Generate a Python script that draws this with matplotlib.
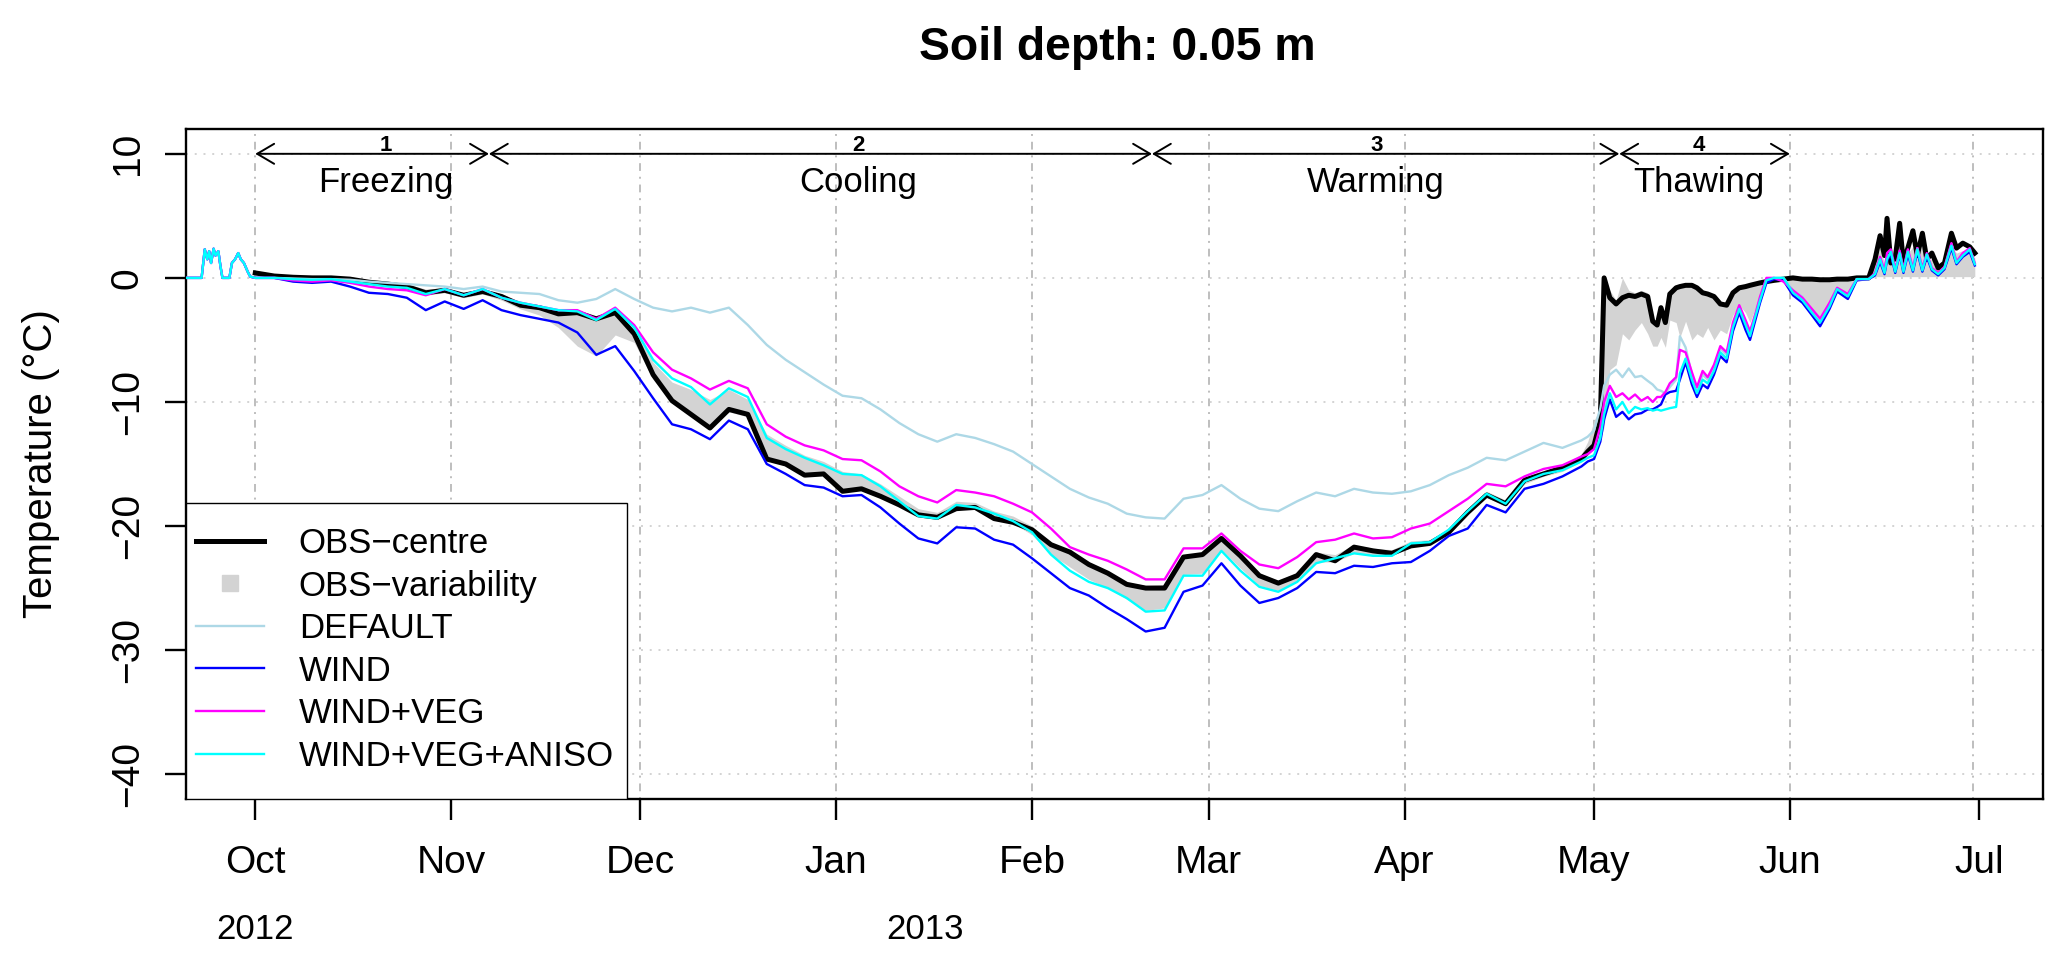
import numpy as np
import matplotlib
matplotlib.use('Agg')
import matplotlib.pyplot as plt
import matplotlib.dates as mdates
import matplotlib.transforms as mtransforms
from matplotlib.lines import Line2D
from matplotlib.patches import Rectangle

plt.rcParams['font.family'] = ['Liberation Sans', 'DejaVu Sans']

# time axis: days since 2012-10-01
t0 = np.datetime64('2012-10-01')

# spin-up before October (identical for all model runs)
pre_days = [-10.9, -8.5, -8.0, -7.6, -7.3, -7.0, -6.6, -6.3, -5.85, -5.5,
            -5.2, -4.1, -3.7, -3.2, -2.7, -2.3, -1.8, -1.2, -0.8]
pre_model = [0, 0, 2.3, 1.5, 2.15, 1.2, 2.35, 1.8, 2.15, 0.9,
             0, 0, 1.2, 1.5, 2.0, 1.5, 1.2, 0.5, 0.1]

days = [0, 3, 6, 9, 12, 15, 18, 21, 24, 27,
        30, 33, 36, 39, 42, 45, 48, 51, 54, 57,
        60, 63, 66, 69, 72, 75, 78, 81, 84, 87,
        90, 93, 96, 99, 102, 105, 108, 111, 114, 117,
        120, 123, 126, 129, 132, 135, 138, 141, 144, 147,
        150, 153, 156, 159, 162, 165, 168, 171, 174, 177,
        180, 183, 186, 189, 192, 195, 198, 201, 204, 207,
        210,
        211, 212, 213, 213.6, 214.5, 215.5, 216.5, 217.5, 218.5, 219.5,
        220.5, 221.3, 222, 222.6, 223.3, 224, 225, 225.6, 226.5, 227.5,
        228.3, 229.2, 230, 231, 232, 233, 234, 235, 236, 236.7,
        237.5, 238.3, 239.3, 240.5, 242, 243.5, 245, 246.5, 247.8, 249.3,
        250.5, 252.2, 253.6, 255.5, 256.5, 257.3, 258, 258.4, 259, 259.7,
        260.4, 261, 261.7, 262.5, 263.2, 264, 264.7, 265.5, 266.5, 267.5,
        268.6, 269.4, 270.4, 271.5, 272.3]

obs_centre = [0.4, 0.15, 0.05, 0.0, 0.0, -0.1, -0.35, -0.5, -0.7, -1.2,
              -1.0, -1.4, -1.1, -1.5, -2.2, -2.4, -2.9, -2.8, -3.3, -2.8,
              -4.5, -7.8, -9.9, -11.0, -12.1, -10.6, -11.0, -14.6, -15.0, -15.9,
              -15.8, -17.2, -17.0, -17.6, -18.3, -19.1, -19.3, -18.6, -18.5, -19.4,
              -19.7, -20.3, -21.5, -22.1, -23.1, -23.8, -24.7, -25.0, -25.0, -22.5,
              -22.3, -21.0, -22.4, -24.0, -24.6, -24.0, -22.3, -22.8, -21.7, -22.0,
              -22.2, -21.6, -21.4, -20.5, -18.9, -17.5, -18.2, -16.3, -15.8, -15.3,
              -14.6,
              -14.0, -13.5, -11.5, 0.0, -1.6, -2.1, -1.6, -1.4, -1.5, -1.3,
              -1.5, -3.5, -3.8, -2.4, -3.6, -1.3, -0.8, -0.7, -0.6, -0.6,
              -0.8, -1.2, -1.3, -1.5, -2.1, -2.2, -1.2, -0.8, -0.7, -0.6,
              -0.5, -0.4, -0.3, -0.2, -0.1, 0.0, -0.1, -0.1, -0.15, -0.15,
              -0.1, -0.1, 0.0, 0.0, 1.5, 3.4, 1.8, 4.8, 1.2, 1.6,
              4.4, 1.2, 2.4, 3.8, 1.8, 3.6, 1.5, 2.0, 0.8, 1.2,
              3.6, 2.4, 2.8, 2.5, 2.0]

obs_low = [0.2, 0.0, -0.05, -0.1, -0.15, -0.25, -0.5, -0.7, -0.9, -1.4,
           -1.2, -1.6, -1.3, -1.8, -2.5, -3.0, -4.0, -5.5, -6.3, -4.6,
           -5.2, -8.2, -10.0, -11.0, -12.0, -10.8, -11.2, -14.6, -15.0, -15.8,
           -15.8, -17.2, -17.0, -17.6, -18.3, -19.2, -19.4, -18.6, -18.6, -19.4,
           -19.8, -20.7, -22.3, -23.3, -24.3, -25.0, -25.9, -26.8, -26.6, -23.9,
           -23.8, -21.9, -23.4, -24.8, -25.2, -24.4, -22.9, -22.9, -22.2, -22.4,
           -22.4, -21.7, -21.5, -20.6, -19.1, -17.7, -18.4, -16.6, -16.0, -15.6,
           -14.8,
           -14.3, -13.8, -13.0, -12.0, -7.4, -7.0, -4.5, -5.0, -4.2, -3.6,
           -4.5, -5.5, -5.5, -4.8, -5.6, -3.4, -3.6, -4.8, -3.5, -5.0,
           -4.5, -4.8, -4.0, -5.0, -4.2, -4.5, -3.0, -2.2, -2.8, -3.6,
           -2.5, -1.4, -0.4, -0.2, -0.3, -1.0, -1.7, -2.6, -3.2, -2.2,
           -1.0, -1.3, -0.2, 0.0, 0.1, 0.1, 0.1, 0.1, 0.1, 0.1,
           0.1, 0.1, 0.1, 0.1, 0.1, 0.1, 0.1, 0.1, 0.1, 0.1,
           0.1, 0.1, 0.1, 0.1, 0.1]

obs_high = [0.5, 0.25, 0.1, 0.05, 0.05, 0.0, -0.2, -0.3, -0.5, -0.9,
            -0.8, -1.2, -0.9, -1.3, -1.9, -2.2, -2.6, -2.7, -3.2, -2.6,
            -4.0, -6.8, -8.4, -9.0, -9.8, -9.0, -9.8, -12.6, -13.5, -14.3,
            -14.8, -15.6, -15.8, -16.6, -17.6, -18.6, -18.9, -18.0, -18.1, -18.8,
            -19.2, -20.0, -21.3, -22.0, -22.9, -23.6, -24.5, -24.8, -24.7, -22.3,
            -22.2, -20.8, -22.2, -23.8, -24.4, -23.7, -22.1, -22.3, -21.5, -21.8,
            -21.9, -21.2, -21.1, -20.2, -18.7, -17.2, -17.9, -16.1, -15.6, -15.1,
            -14.2,
            -13.2, -11.5, -10.5, -0.3, -1.0, -1.8, 0.0, -1.0, -1.2, -1.0,
            -1.2, -3.3, -3.5, -2.3, -3.5, -1.1, -0.7, -0.6, -0.5, -0.5,
            -0.7, -1.1, -1.2, -1.4, -2.0, -2.1, -1.1, -0.7, -0.6, -0.5,
            -0.4, -0.3, -0.2, -0.1, 0.0, 0.0, 0.0, 0.0, 0.0, 0.0,
            0.0, 0.0, 0.0, 0.1, 1.0, 2.5, 1.2, 3.5, 1.5, 1.2,
            3.0, 1.0, 2.0, 2.5, 1.8, 2.5, 1.3, 1.5, 0.6, 1.0,
            2.5, 2.0, 2.2, 2.0, 1.6]

default = [0, 0, -0.05, -0.1, -0.1, -0.15, -0.3, -0.4, -0.5, -0.6,
           -0.7, -0.9, -0.7, -1.1, -1.2, -1.3, -1.8, -2.0, -1.7, -0.9,
           -1.7, -2.4, -2.7, -2.4, -2.8, -2.4, -3.8, -5.4, -6.6, -7.6,
           -8.6, -9.5, -9.7, -10.6, -11.7, -12.6, -13.2, -12.6, -12.9, -13.4,
           -14.0, -15.0, -16.0, -17.0, -17.7, -18.2, -19.0, -19.3, -19.4, -17.8,
           -17.5, -16.7, -17.8, -18.6, -18.8, -18.0, -17.3, -17.6, -17.0, -17.3,
           -17.4, -17.2, -16.7, -15.9, -15.3, -14.5, -14.7, -14.0, -13.3, -13.7,
           -13.1,
           -12.8, -12.3, -10.5, -8.7, -7.8, -7.4, -8.0, -7.3, -8.0, -7.9,
           -8.3, -8.6, -9.0, -9.1, -9.3, -8.8, -8.2, -4.7, -5.6, -7.8,
           -9.0, -7.8, -8.2, -7.2, -5.7, -6.2, -3.8, -2.3, -3.6, -4.5,
           -3.0, -1.6, -0.1, 0.0, 0.0, -1.0, -1.5, -2.6, -3.2, -2.1,
           -0.8, -1.3, -0.1, -0.1, 0.3, 1.5, 0.5, 1.6, 2.0, 0.5,
           2.1, 0.6, 2.2, 0.7, 2.4, 0.7, 1.9, 0.7, 0.3, 0.8,
           2.7, 1.3, 1.9, 2.2, 1.1]

wind = [0, 0, -0.3, -0.4, -0.3, -0.7, -1.2, -1.3, -1.6, -2.6,
        -1.9, -2.5, -1.8, -2.6, -3.0, -3.3, -3.6, -4.4, -6.2, -5.5,
        -7.5, -9.7, -11.8, -12.2, -13.0, -11.5, -12.2, -15.0, -15.8, -16.7,
        -16.9, -17.6, -17.5, -18.5, -19.8, -21.0, -21.4, -20.1, -20.2, -21.1,
        -21.5, -22.6, -23.8, -25.0, -25.6, -26.6, -27.5, -28.5, -28.2, -25.3,
        -24.8, -23.0, -24.8, -26.2, -25.8, -25.0, -23.7, -23.8, -23.2, -23.3,
        -23.0, -22.9, -22.0, -20.8, -20.2, -18.3, -18.9, -17.0, -16.6, -16.0,
        -15.2,
        -14.8, -14.6, -13.2, -11.4, -9.8, -11.2, -10.8, -11.4, -11.0, -10.9,
        -10.6, -10.6, -10.4, -10.2, -9.4, -9.2, -9.1, -8.2, -6.8, -8.6,
        -9.6, -8.6, -8.9, -7.8, -6.3, -6.8, -4.3, -2.8, -4.2, -5.0,
        -3.5, -2.0, -0.4, -0.1, -0.2, -1.4, -2.0, -3.0, -3.9, -2.5,
        -1.1, -1.7, -0.2, -0.1, 0.2, 1.3, 0.3, 1.4, 1.9, 0.4,
        1.9, 0.4, 1.9, 0.5, 2.1, 0.5, 1.7, 0.6, 0.2, 0.7,
        2.4, 1.1, 1.7, 2.1, 1.0]

wind_veg = [0, 0, -0.2, -0.3, -0.2, -0.4, -0.7, -0.9, -1.0, -1.4,
            -0.9, -1.4, -0.9, -1.6, -2.0, -2.3, -2.6, -2.6, -3.3, -2.4,
            -3.8, -6.0, -7.4, -8.1, -9.0, -8.3, -8.9, -11.8, -12.8, -13.5,
            -13.9, -14.6, -14.7, -15.6, -16.8, -17.6, -18.1, -17.1, -17.3, -17.6,
            -18.2, -18.9, -20.2, -21.7, -22.3, -22.8, -23.5, -24.3, -24.3, -21.8,
            -21.8, -20.6, -22.0, -23.1, -23.4, -22.5, -21.3, -21.1, -20.6, -21.0,
            -20.9, -20.2, -19.8, -18.8, -17.8, -16.6, -16.8, -16.0, -15.4, -15.1,
            -14.4,
            -14.2, -13.8, -12.0, -10.0, -8.7, -9.6, -9.3, -9.8, -9.4, -9.9,
            -9.6, -10.0, -9.6, -9.6, -9.2, -8.5, -8.0, -5.8, -6.0, -7.6,
            -8.8, -7.5, -8.0, -7.0, -5.5, -6.0, -3.6, -2.2, -3.4, -4.3,
            -3.0, -1.5, 0.0, 0.0, -0.3, -1.0, -1.6, -2.5, -3.3, -2.0,
            -0.8, -1.3, -0.1, -0.1, 0.4, 1.7, 0.6, 2.0, 2.3, 0.7,
            2.2, 0.7, 2.3, 0.8, 2.4, 0.8, 2.0, 0.8, 0.4, 0.9,
            2.8, 1.3, 2.0, 2.4, 1.2]

wind_veg_aniso = [0, 0, -0.1, -0.15, -0.1, -0.3, -0.5, -0.7, -0.8, -1.3,
                  -0.9, -1.4, -0.9, -1.6, -2.0, -2.3, -2.6, -2.7, -3.4, -2.5,
                  -4.0, -6.6, -8.1, -8.8, -10.2, -8.9, -9.6, -12.9, -13.8, -14.5,
                  -15.1, -15.8, -15.9, -16.8, -18.0, -19.2, -19.4, -18.3, -18.5, -19.0,
                  -19.6, -20.5, -22.3, -23.6, -24.5, -25.0, -25.8, -26.9, -26.8, -24.0,
                  -24.0, -22.0, -23.6, -24.9, -25.3, -24.5, -23.0, -22.6, -22.2, -22.4,
                  -22.4, -21.4, -21.3, -20.3, -18.8, -17.4, -18.2, -16.4, -15.8, -15.5,
                  -14.8,
                  -14.5, -14.3, -12.9, -11.0, -9.3, -10.6, -10.0, -10.9, -10.4, -10.6,
                  -10.5, -10.7, -10.6, -10.7, -10.6, -10.5, -10.4, -7.7, -6.5, -8.2,
                  -9.3, -8.2, -8.5, -7.5, -6.0, -6.5, -4.0, -2.5, -3.8, -4.7,
                  -3.2, -1.8, -0.2, 0.0, 0.0, -1.2, -1.8, -2.8, -3.6, -2.3,
                  -0.9, -1.5, -0.1, -0.1, 0.3, 1.5, 0.4, 1.5, 2.1, 0.5,
                  2.0, 0.5, 2.1, 0.6, 2.3, 0.6, 1.9, 0.7, 0.3, 0.8,
                  2.6, 1.2, 1.8, 2.3, 1.1]

# snow/soil phases
phase_edges = ['2012-10-01', '2012-11-07', '2013-02-20', '2013-05-05', '2013-06-01']
phase_names = ['Freezing', 'Cooling', 'Warming', 'Thawing']
phase_label_days = [20.7, 95.5, 177.5, 228.6]

month_ticks = ['2012-10-01', '2012-11-01', '2012-12-01', '2013-01-01', '2013-02-01',
               '2013-03-01', '2013-04-01', '2013-05-01', '2013-06-01', '2013-07-01']
month_grid = month_ticks[:-1] + ['2013-06-30']
year_labels = ['2012', '2013']
year_dates = ['2012-10-01', '2013-01-15']


def to_num(d):
    return mdates.date2num(t0) + np.asarray(d, dtype=float)


def date_num(s):
    return mdates.date2num(np.datetime64(s))


x = to_num(days)
x_mod = np.concatenate([to_num(pre_days), x])


def model(vals):
    return np.concatenate([pre_model, vals])


# plot setup
W, H = 2066, 958
fig = plt.figure(figsize=(W / 100, H / 100), dpi=100)
ax = fig.add_axes([186 / W, (H - 799) / H, 1857 / W, 670 / H])

ax.set_xlim(to_num(-10.97), to_num(283.1))
ax.set_ylim(-42, 12)

# grid
for g in month_grid:
    ax.axvline(date_num(g), color='#BEBEBE', lw=1.4, ls=(0, (1, 3, 4, 3)), zorder=0)
for yv in [10, 0, -10, -20, -30, -40]:
    ax.axhline(yv, color='#D3D3D3', lw=1.4, ls=(0, (1, 3.5)), zorder=0)

# data
ax.fill_between(x, obs_low, obs_high, color='#D3D3D3', lw=0, zorder=1)
ax.plot(x, obs_centre, color='black', lw=3.6, zorder=2)
ax.plot(x_mod, model(default), color='#ADD8E6', lw=1.7, zorder=3)
ax.plot(x_mod, model(wind), color='#0000FF', lw=1.7, zorder=3)
ax.plot(x_mod, model(wind_veg), color='#FF00FF', lw=1.7, zorder=3)
ax.plot(x_mod, model(wind_veg_aniso), color='#00FFFF', lw=1.7, zorder=3)

# phases
for i in range(4):
    ax.annotate('', xy=(date_num(phase_edges[i + 1]), 10), xytext=(date_num(phase_edges[i]), 10),
                arrowprops=dict(arrowstyle='<->,head_length=1.22,head_width=0.72', lw=1.4,
                                color='black', shrinkA=0, shrinkB=0, mutation_scale=10),
                zorder=4)
    xl = to_num(phase_label_days[i])
    ax.text(xl, 10.25, str(i + 1), ha='center', va='baseline', fontsize=16, fontweight='bold')
    ax.text(xl, 6.9, phase_names[i], ha='center', va='baseline', fontsize=25)

# axes
for s in ax.spines.values():
    s.set_linewidth(1.7)
ax.set_xticks([date_num(m) for m in month_ticks])
ax.xaxis.set_major_formatter(mdates.DateFormatter('%b'))
ax.set_yticks([-40, -30, -20, -10, 0, 10])
ax.tick_params(axis='both', length=15, width=1.7, direction='out', labelsize=28)
ax.tick_params(axis='x', pad=18)
ax.tick_params(axis='y', pad=14)
for lab in ax.get_yticklabels():
    lab.set_rotation(90)
    lab.set_va('center')

trans = mtransforms.blended_transform_factory(ax.transData, ax.transAxes)
for yl, yd in zip(year_labels, year_dates):
    ax.text(date_num(yd), -0.2094, yl, transform=trans, ha='center', va='baseline',
            fontsize=25, clip_on=False)

ax.set_ylabel('Temperature (°C)', fontsize=29)
ax.yaxis.set_label_coords(-0.0676, 0.5)

fig.text(1117 / W, 1 - 60 / H, 'Soil depth: 0.05 m', ha='center', va='baseline',
         fontsize=33.4, fontweight='bold')

# legend
ax.add_patch(Rectangle((0, 0), 0.2375, 0.4418, transform=ax.transAxes, facecolor='white',
                       edgecolor='black', lw=1.0, zorder=5))
handles = [Line2D([], [], color='black', lw=3.6),
           Line2D([], [], color='#D3D3D3', marker='s', ls='none', markersize=11),
           Line2D([], [], color='#ADD8E6', lw=1.7),
           Line2D([], [], color='#0000FF', lw=1.7),
           Line2D([], [], color='#FF00FF', lw=1.7),
           Line2D([], [], color='#00FFFF', lw=1.7)]
labels = ['OBS\u2212centre', 'OBS\u2212variability', 'DEFAULT', 'WIND', 'WIND+VEG', 'WIND+VEG+ANISO']
leg = ax.legend(handles, labels, loc='upper left', bbox_to_anchor=(10 / 1857, (799 - 527) / 670),
                frameon=False, fontsize=25, handlelength=1.96, handletextpad=1.0,
                borderpad=0, borderaxespad=0, labelspacing=0.275)
leg.set_zorder(6)

fig.savefig('out.png', dpi=100)
